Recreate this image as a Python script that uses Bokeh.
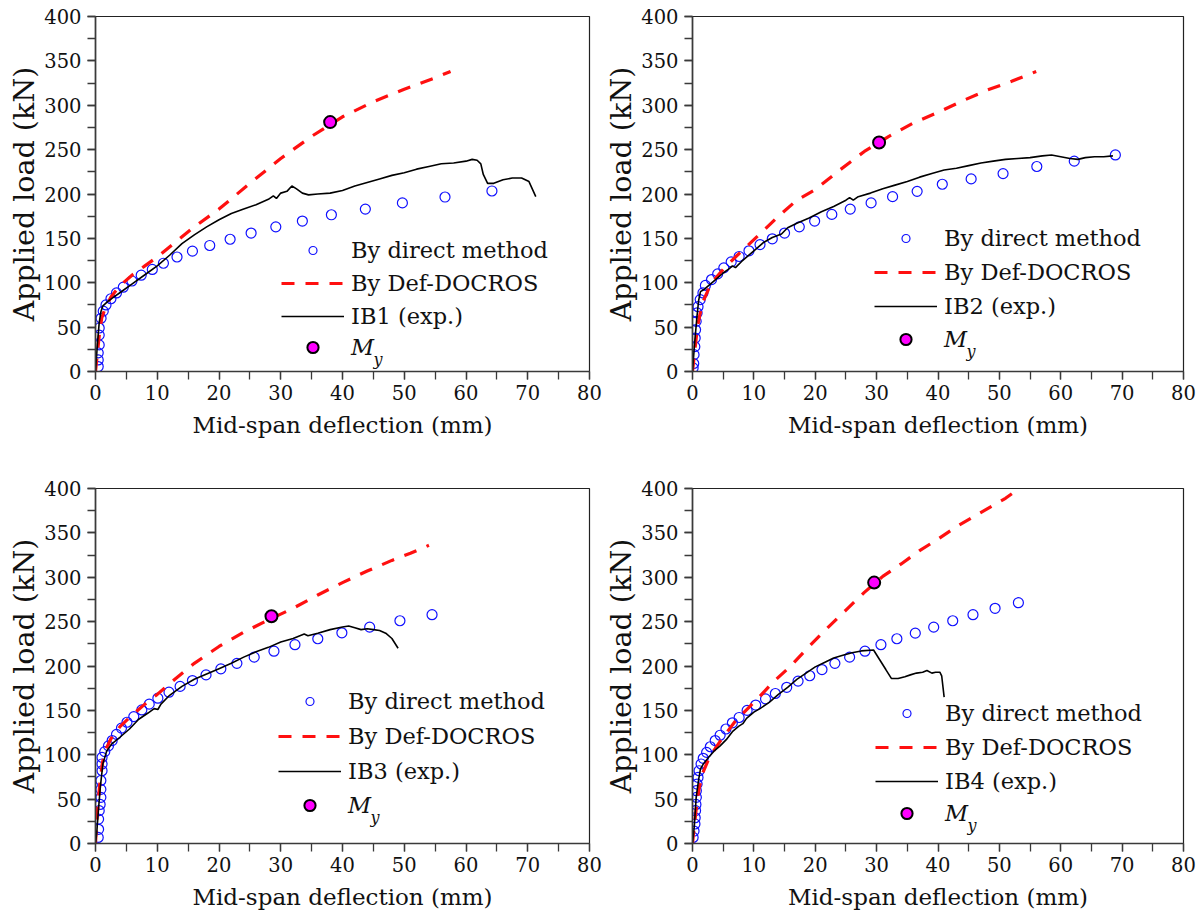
from bokeh.plotting import figure
from bokeh.models import Range1d, SingleIntervalTicker, Legend, LegendItem, Label
from bokeh.layouts import column, row
from bokeh.embed import file_html
from bokeh.resources import INLINE

FONT = "DejaVu Serif"

# ---------------- data ----------------
# IB1
direct1_x = [0.44, 0.44, 0.44, 0.6, 0.6, 0.6, 0.9, 1.25, 1.7, 2.5, 3.4, 4.5, 5.9, 7.4, 9.2, 11.0, 13.2,
             15.7, 18.5, 21.8, 25.2, 29.2, 33.5, 38.2, 43.7, 49.7, 56.6, 64.2]
direct1_y = [5.6, 13, 21, 30, 41, 49, 60, 68, 75, 82, 88.5, 95, 102, 108.5, 115, 122, 129,
             135.6, 142, 149, 156, 163, 169.5, 176.6, 183, 190, 196.6, 203.4]
docros1_x = [0, 0.3, 0.6, 1.0, 1.5, 2.5, 4, 6, 8, 10, 13, 16, 20, 25, 30, 35, 40, 45, 50, 55, 57.5]
docros1_y = [0, 20, 40, 60, 70, 84, 97, 109, 119, 129, 146, 163, 183, 212, 240, 265, 287, 304, 318, 331, 338]
exp1_x = [0, 0.3, 0.6, 0.9, 1.2, 2, 3, 4, 6, 8, 10, 12, 14, 16, 18, 20, 22, 24, 26, 28, 28.8, 29.3, 30,
          31, 31.8, 32.5, 33.5, 34.5, 36, 38, 40, 42, 44, 46, 48, 50, 52, 54, 56, 58, 60, 61, 61.8, 62.4,
          62.8, 63.5, 64.5, 66, 67.5, 69, 70.2, 71.3]
exp1_y = [0, 30, 55, 68, 74, 79, 84, 89, 99, 109, 119, 131, 144, 154, 163, 171, 178, 183, 188, 194, 198,
          195, 201, 203, 209, 206, 201, 199, 200, 201, 204, 209, 213, 217, 221, 224, 228, 231, 234, 235,
          237, 239, 238, 234, 222, 212, 212, 216, 218, 218, 214, 197]
my1_x = [38.0]
my1_y = [281]

# IB2
direct2_x = [0.1, 0.2, 0.25, 0.38, 0.44, 0.5, 0.6, 0.75, 0.9, 1.25, 1.7, 2.1, 3.1, 4.1, 5.1, 6.3, 7.6, 9.2,
             11.0, 13.0, 15.0, 17.4, 19.9, 22.7, 25.7, 29.1, 32.6, 36.6, 40.7, 45.4, 50.6, 56.1, 62.2, 68.9]
direct2_y = [4, 9, 19, 28, 37.7, 47, 56.5, 66, 73, 81, 88.5, 97, 103.6, 110, 116.8, 123.5, 129.6, 136,
             143, 149.5, 156, 163, 169.5, 177, 183, 190, 197, 203, 211, 217, 223, 231, 237, 244]
docros2_x = [0, 0.4, 0.8, 1.2, 1.8, 3, 5, 7, 9, 11, 14, 17, 20, 24, 28, 32, 36, 40, 44, 48, 52, 56]
docros2_y = [0, 25, 50, 64, 80, 99, 115, 129, 142, 155, 175, 193, 205, 227, 248, 265, 280, 292, 305, 317, 327, 338]
exp2_x = [0, 0.3, 0.7, 1.0, 1.3, 2, 3, 4, 5, 6, 6.5, 7, 8, 9, 10, 11.5, 13, 14.5, 15.5, 17, 19, 21, 23, 25,
          25.6, 26.2, 27, 29, 31, 33, 35, 37, 39, 41, 43, 45, 47, 49, 51, 53, 55, 57, 58.5, 60, 61.5, 62.8,
          64, 65.5, 67, 68.5]
exp2_y = [0, 28, 60, 80, 90, 93, 99, 105, 111, 116, 119, 117, 124, 130, 136, 145, 151, 155, 162, 167, 173,
          180, 186, 193, 196, 193, 197, 201, 206, 210, 214, 219, 223, 227, 229, 232, 235, 237, 239, 240,
          241, 243, 244, 242, 240, 239, 241, 242, 242, 243]
my2_x = [30.4]
my2_y = [258]

# IB3
direct3_x = [0.44, 0.5, 0.5, 0.6, 0.75, 0.87, 0.87, 0.87, 1.06, 1.06, 1.06, 1.5, 2.1, 2.7, 3.4, 4.2, 5.1,
             6.2, 7.5, 8.7, 10.1, 11.9, 13.7, 15.7, 17.9, 20.3, 22.9, 25.7, 28.9, 32.3, 36.0, 39.9, 44.4,
             49.3, 54.5]
direct3_y = [6.8, 16, 27.5, 37, 44, 52, 61, 71, 82, 89.6, 97, 103.5, 110, 116, 123, 130, 136.6, 143, 150.5,
             157, 163.7, 170.5, 177, 183.6, 190, 196.8, 203, 210, 216.7, 224, 230.7, 237.4, 243.8, 251, 257.8]
docros3_x = [0, 0.3, 0.7, 1.1, 1.6, 2.5, 4, 6, 8, 10, 13, 16, 20, 24, 28, 32, 36, 40, 44, 48, 51, 54]
docros3_y = [0, 35, 68, 90, 105, 118, 132, 145, 157, 168, 186, 203, 222, 238, 252, 265, 280, 294, 307, 319, 327, 336]
exp3_x = [0, 0.2, 0.5, 0.8, 1.2, 1.8, 2.6, 4, 5.5, 7, 8.5, 9.5, 10.1, 10.6, 12, 14, 16, 18, 20, 22, 24, 26,
          28, 30, 32, 33.8, 34.4, 36, 38, 40, 41, 42, 43, 44, 45, 46, 47, 48, 49]
exp3_y = [0, 12, 40, 65, 90, 104, 112, 120, 129, 140, 147, 152, 151, 157, 167, 177, 185, 191, 197, 203, 210,
          216, 221, 227, 231, 236, 234, 237, 241, 244, 245, 243, 241, 242, 241, 240, 237, 231, 220]
my3_x = [28.5]
my3_y = [256]

# IB4
direct4_x = [0.1, 0.25, 0.4, 0.44, 0.5, 0.56, 0.63, 0.63, 0.75, 0.9, 1.07, 1.4, 1.75, 2.3, 2.9, 3.7, 4.5,
             5.45, 6.5, 7.6, 8.9, 10.3, 11.9, 13.5, 15.35, 17.2, 19.1, 21.1, 23.2, 25.6, 28.1, 30.7, 33.3,
             36.3, 39.3, 42.4, 45.7, 49.3, 53.1]
direct4_y = [6.8, 14, 22, 29, 37, 44, 52, 59.5, 67, 74.5, 82, 89.6, 96, 102.7, 109, 116, 122, 129, 136, 142,
             150, 156, 163, 169, 176, 183, 189, 196, 203, 210, 216.7, 224, 230.7, 237, 243.8, 251, 257.8,
             265, 271.3]
docros4_x = [0, 0.3, 0.7, 1.1, 1.7, 2.5, 3.5, 5, 7, 9, 11, 13, 16, 19, 22, 25, 28, 31, 34, 37, 40, 43, 46,
             49, 51, 53]
docros4_y = [0, 20, 45, 63, 80, 93, 105, 120, 138, 152, 166, 181, 200, 222, 243, 263, 283, 301, 315, 330,
             343, 357, 369, 381, 389, 399]
exp4_x = [0, 0.3, 0.6, 1.0, 1.3, 1.8, 2.6, 3.5, 4.5, 5.5, 6.5, 7.5, 8.2, 8.8, 10, 11, 12.5, 14, 15.5, 17,
          18.5, 20, 21.5, 23, 24.5, 26, 27.5, 29.5, 30.5, 31.5, 32.4, 33.5, 34.6, 35.5, 36.5, 37.5, 38.2,
          39, 39.6, 40.3, 40.6, 41]
exp4_y = [0, 20, 52, 72, 84, 90, 97, 104, 110, 117, 126, 132, 135, 141, 148, 152, 159, 168, 176, 185, 192,
          199, 204, 209, 212, 215, 217, 218, 207, 196, 186, 186, 188, 190, 192, 193, 195, 192, 193, 193,
          189, 165]
my4_x = [29.6]
my4_y = [294]

labels = ["By direct method", "By Def-DOCROS"]
exp_labels = ["IB1 (exp.)", "IB2 (exp.)", "IB3 (exp.)", "IB4 (exp.)"]
x_label = "Mid-span deflection (mm)"
y_label = "Applied load (kN)"

panels = [
    (direct1_x, direct1_y, docros1_x, docros1_y, exp1_x, exp1_y, my1_x, my1_y),
    (direct2_x, direct2_y, docros2_x, docros2_y, exp2_x, exp2_y, my2_x, my2_y),
    (direct3_x, direct3_y, docros3_x, docros3_y, exp3_x, exp3_y, my3_x, my3_y),
    (direct4_x, direct4_y, docros4_x, docros4_y, exp4_x, exp4_y, my4_x, my4_y),
]

# layout: (width, height, border left, right, top, bottom)
geom = [
    (602, 472, 95, 13, 16, 101),
    (602, 472, 90, 21, 16, 101),
    (602, 452, 95, 13, 16, 81),
    (602, 452, 90, 21, 16, 81),
]
# legend placement (screen px from frame bottom-left): vx, vy, spacing, vy_my
leg_geom = [
    (186, 42, 7, 10),
    (182, 52, 8, 18),
    (183, 59, 9, 24),
    (183, 49, 8, 16),
]

AX = "#3a3a3a"


def make_panel(i):
    dx, dy, rx, ry, ex, ey, mx, my = panels[i]
    w, h, bl, br, bt, bb = geom[i]
    p = figure(width=w, height=h, x_range=Range1d(0, 80), y_range=Range1d(0, 400),
               output_backend="svg", toolbar_location=None,
               min_border_left=bl, min_border_right=br, min_border_top=bt, min_border_bottom=bb)
    p.grid.visible = False
    p.outline_line_color = "#222222"
    p.outline_line_width = 1.2
    p.xaxis.ticker = SingleIntervalTicker(interval=10, num_minor_ticks=2)
    p.yaxis.ticker = SingleIntervalTicker(interval=50, num_minor_ticks=2)
    for ax in (p.xaxis[0], p.yaxis[0]):
        ax.axis_line_color = AX
        ax.axis_line_width = 1.6
        ax.major_tick_in = 0
        ax.major_tick_out = 8
        ax.minor_tick_in = 0
        ax.minor_tick_out = 8
        ax.major_tick_line_color = AX
        ax.minor_tick_line_color = AX
        ax.major_tick_line_width = 1.3
        ax.minor_tick_line_width = 1.3
        ax.major_label_text_font = FONT
        ax.major_label_text_font_size = "19.5px"
        ax.major_label_text_color = "#111111"
        ax.axis_label_text_font = FONT
        ax.axis_label_text_font_style = "normal"
        ax.axis_label_text_color = "#111111"
    p.xaxis.axis_label = x_label
    p.xaxis.axis_label_text_font_size = "23px"
    p.xaxis.major_label_standoff = 5
    p.xaxis.axis_label_standoff = 9
    p.yaxis.axis_label = y_label
    p.yaxis.axis_label_text_font_size = "28.5px"
    p.yaxis.major_label_standoff = 6
    p.yaxis.axis_label_standoff = 0

    rb = p.scatter(dx, dy, marker="circle", size=10, fill_color=None, line_color="#1010ff", line_width=1.2)
    rr = p.line(rx, ry, line_color="#ff1010", line_width=3.2, line_dash="13 11")
    rk = p.line(ex, ey, line_color="black", line_width=1.6)
    rm = p.scatter(mx, my, marker="circle", size=12, fill_color="#ff00ff", line_color="black", line_width=2)

    vx, vy, sp, vym = leg_geom[i]
    common = dict(glyph_width=63, label_standoff=7, padding=0, margin=0,
                  border_line_color=None, background_fill_alpha=0,
                  label_text_font=FONT, label_text_font_size="22.5px", label_text_color="#111111")
    leg = Legend(items=[LegendItem(label=labels[0], renderers=[rb]),
                        LegendItem(label=labels[1], renderers=[rr]),
                        LegendItem(label=exp_labels[i], renderers=[rk])],
                 location=(vx, vy), glyph_height=20, label_height=26, spacing=sp, **common)
    p.add_layout(leg)
    leg2 = Legend(items=[LegendItem(label="M", renderers=[rm])],
                  location=(vx, vym), glyph_height=28, label_height=28,
                  label_text_font_style="italic", **common)
    p.add_layout(leg2)
    sub = Label(x=vx + 92, y=vym + 14 - 12.3, x_units="screen", y_units="screen", text="y",
                text_font=FONT, text_font_style="italic", text_font_size="16px",
                text_color="#111111", text_baseline="alphabetic")
    p.add_layout(sub)
    return p


figs = [make_panel(i) for i in range(4)]
layout = column(row(figs[0], figs[1]), row(figs[2], figs[3]))

with open("out.html", "w") as f:
    f.write(file_html(layout, INLINE))
